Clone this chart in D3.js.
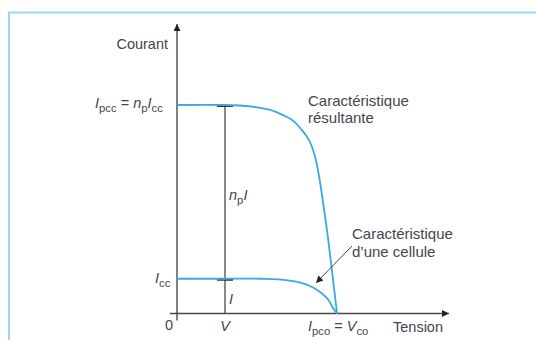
<!DOCTYPE html>
<html>
<head>
<meta charset="utf-8">
<script src="https://cdn.jsdelivr.net/npm/d3@7"></script>
<style>
  html, body { margin: 0; padding: 0; background: #fff; }
  svg { display: block; }
  text { font-family: "Liberation Sans", Arial, sans-serif; fill: #45454f; }
</style>
</head>
<body>
<script>
// Tension (fraction of Vco) and current (multiples of Icc) along each curve
const resultingV = [0, 0.30, 0.456, 0.581, 0.6625, 0.725, 0.7875, 0.825, 0.85, 0.869, 0.8875, 0.906, 0.925, 0.944, 0.969, 1.0];
const resultingI = [6, 6, 5.96, 5.86, 5.71, 5.55, 5.24, 4.99, 4.71, 4.39, 3.96, 3.41, 2.81, 2.17, 1.22, 0];
const cellV = [0, 0.30, 0.52, 0.64, 0.77, 0.85, 0.94, 0.975, 1.0];
const cellI = [1, 1, 1.0, 0.98, 0.89, 0.75, 0.43, 0.16, 0];

// Operating point and reference levels
const opV = 0.30;
const iccLevel = 1;
const ipccLevel = 6;
const vMax = 1.7;

const W = 536, H = 340;
const svg = d3.select("body").append("svg").attr("width", W).attr("height", H);

// Frame
svg.append("path")
  .attr("d", `M9,${H} L9,12.5 L${W},12.5`)
  .attr("fill", "none").attr("stroke", "#9fd5f3").attr("stroke-width", 2.2);

const x = d3.scaleLinear().domain([0, 1]).range([177, 337]);
const y = d3.scaleLinear().domain([0, ipccLevel]).range([313.5, 105]);

const axisColor = "#4a4a4a";
const defs = svg.append("defs");
defs.append("marker").attr("id", "arr")
  .attr("viewBox", "0 0 10 10").attr("refX", 10).attr("refY", 5)
  .attr("markerWidth", 10).attr("markerHeight", 7).attr("markerUnits", "userSpaceOnUse")
  .attr("orient", "auto")
  .append("path").attr("d", "M0,0 L10,5 L0,10 Z").attr("fill", "#222");
defs.append("marker").attr("id", "arrAxis")
  .attr("viewBox", "0 0 10 10").attr("refX", 10).attr("refY", 5)
  .attr("markerWidth", 10).attr("markerHeight", 7).attr("markerUnits", "userSpaceOnUse")
  .attr("orient", "auto-start-reverse")
  .append("path").attr("d", "M0,0 L10,5 L0,10 Z").attr("fill", "#222");

// Axes
svg.append("line")
  .attr("x1", x(0) - 7).attr("x2", x(vMax)).attr("y1", y(0)).attr("y2", y(0))
  .attr("stroke", axisColor).attr("stroke-width", 1.4).attr("marker-end", "url(#arrAxis)");
svg.append("line")
  .attr("x1", x(0)).attr("x2", x(0)).attr("y1", y(0) + 7).attr("y2", 24)
  .attr("stroke", axisColor).attr("stroke-width", 1.4).attr("marker-end", "url(#arrAxis)");

// Vertical at the operating voltage with level marks
svg.append("line")
  .attr("x1", x(opV)).attr("x2", x(opV)).attr("y1", y(ipccLevel)).attr("y2", y(0))
  .attr("stroke", axisColor).attr("stroke-width", 1.3);
[ipccLevel, iccLevel].forEach(lv => {
  svg.append("line")
    .attr("x1", x(opV) - 8).attr("x2", x(opV) + 8).attr("y1", y(lv) + 1).attr("y2", y(lv) + 1)
    .attr("stroke", "#333").attr("stroke-width", 2);
});

// Curves
const line = d3.line().x(d => x(d[0])).y(d => y(d[1])).curve(d3.curveCatmullRom.alpha(0.5));
const curveColor = "#3ba7e3";
svg.append("path").datum(d3.zip(resultingV, resultingI)).attr("d", line)
  .attr("fill", "none").attr("stroke", curveColor).attr("stroke-width", 1.8);
svg.append("path").datum(d3.zip(cellV, cellI)).attr("d", line)
  .attr("fill", "none").attr("stroke", curveColor).attr("stroke-width", 1.8);

// Leader to the single-cell curve
svg.append("line")
  .attr("x1", 352).attr("y1", 246).attr("x2", 316).attr("y2", 283)
  .attr("stroke", "#444").attr("stroke-width", 1).attr("marker-end", "url(#arr)");

// Labels
const fs = 14.5;
function label(xp, yp, parts, anchor, size) {
  const f = size || fs;
  const t = svg.append("text").attr("x", xp).attr("y", yp)
    .attr("font-size", f).attr("text-anchor", anchor || "start");
  parts.forEach(p => {
    const ts = t.append("tspan").text(p.t);
    if (p.i) ts.attr("font-style", "italic");
    if (p.sub) ts.attr("font-size", f * 0.78).attr("dy", 4);
    if (p.up) ts.attr("dy", -4);
  });
  return t;
}
label(168, 49, [{t: "Courant"}], "end");
label(95, 108, [{t: "I", i: 1}, {t: "pcc", sub: 1}, {t: " = ", up: 1}, {t: "n", i: 1},
  {t: "p", sub: 1}, {t: "I", i: 1, up: 1}, {t: "cc", sub: 1}]);
label(155, 283, [{t: "I", i: 1}, {t: "cc", sub: 1}]);
label(165, 330, [{t: "0"}]);
label(x(opV), 331, [{t: "V", i: 1}], "middle");
label(229, 304, [{t: "I", i: 1}]);
label(229, 200, [{t: "n", i: 1}, {t: "p", sub: 1}, {t: "I", i: 1, up: 1}]);
label(308, 331, [{t: "I", i: 1}, {t: "pco", sub: 1}, {t: " = ", up: 1}, {t: "V", i: 1},
  {t: "co", sub: 1}]);
label(393, 332, [{t: "Tension"}]);
label(308, 106, [{t: "Caractéristique"}], "start", 15);
label(308, 123, [{t: "résultante"}], "start", 15);
label(352, 239, [{t: "Caractéristique"}], "start", 15);
label(352, 257, [{t: "d’une cellule"}], "start", 15);
</script>
</body>
</html>
